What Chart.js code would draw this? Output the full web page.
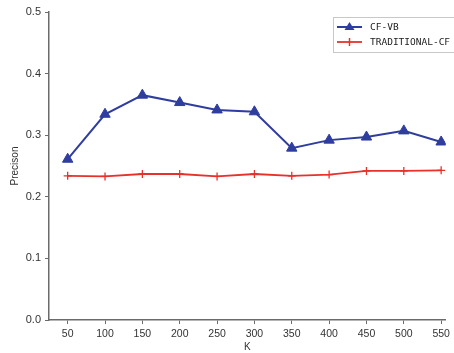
<!DOCTYPE html>
<html>
<head>
<meta charset="utf-8">
<script src="https://cdn.jsdelivr.net/npm/chart.js@4"></script>
<style>
  html, body { margin: 0; padding: 0; background: #fff; }
  #wrap { width: 454px; height: 353px; position: relative; }
</style>
</head>
<body>
<div id="wrap"><canvas id="chart"></canvas></div>
<script>
// K values (x axis)
const kValues = [50, 100, 150, 200, 250, 300, 350, 400, 450, 500, 550];
// precision per K
const cfVb = [0.261, 0.334, 0.365, 0.353, 0.341, 0.338, 0.279, 0.292, 0.297, 0.307, 0.289];
const traditionalCf = [0.234, 0.233, 0.237, 0.237, 0.233, 0.237, 0.234, 0.236, 0.242, 0.242, 0.243];
const yTicks = ['0.0', '0.1', '0.2', '0.3', '0.4', '0.5'];
const seriesNames = ['CF-VB', 'TRADITIONAL-CF'];

const BLUE = '#2e3d9e';
const RED = '#e8312b';
const AXIS = '#6b6b6b';
const TXT = '#333';
const FONT = '"Liberation Sans", Arial, sans-serif';

const toPoints = vals => vals.map((v, i) => ({ x: kValues[i], y: v }));

// legend drawn inside the plot, top right, with a thin grey frame
const boxLegend = {
    id: 'boxLegend',
    afterDraw(chart) {
        const ctx = chart.ctx;
        const x0 = 333, y0 = 17, w = 130, h = 35;
        ctx.save();
        ctx.strokeStyle = '#c8c8c8';
        ctx.lineWidth = 1;
        ctx.strokeRect(x0 + 0.5, y0 + 0.5, w, h);
        chart.data.datasets.forEach((ds, i) => {
            const cy = y0 + 10 + i * 15;
            ctx.strokeStyle = ds.borderColor;
            ctx.lineWidth = ds.borderWidth;
            ctx.beginPath();
            ctx.moveTo(x0 + 4, cy);
            ctx.lineTo(x0 + 29, cy);
            ctx.stroke();
            ctx.fillStyle = ds.borderColor;
            if (ds.pointStyle === 'triangle') {
                ctx.beginPath();
                ctx.moveTo(x0 + 16.5, cy - 5);
                ctx.lineTo(x0 + 21.5, cy + 3);
                ctx.lineTo(x0 + 11.5, cy + 3);
                ctx.closePath();
                ctx.fill();
            } else {
                ctx.lineWidth = 1.5;
                ctx.beginPath();
                ctx.moveTo(x0 + 16.5, cy - 4);
                ctx.lineTo(x0 + 16.5, cy + 4);
                ctx.stroke();
            }
            ctx.fillStyle = '#222';
            ctx.font = '9.5px "DejaVu Sans Mono", monospace';
            ctx.textBaseline = 'middle';
            ctx.textAlign = 'left';
            ctx.fillText(ds.label, x0 + 37, cy + 0.5);
        });
        ctx.restore();
    }
};

new Chart(document.getElementById('chart'), {
    type: 'line',
    data: {
        datasets: [
            {
                label: seriesNames[0],
                data: toPoints(cfVb),
                borderColor: BLUE,
                backgroundColor: BLUE,
                borderWidth: 2,
                pointStyle: 'triangle',
                pointRadius: 6,
                pointBorderWidth: 1,
                tension: 0
            },
            {
                label: seriesNames[1],
                data: toPoints(traditionalCf),
                borderColor: RED,
                backgroundColor: RED,
                borderWidth: 1.8,
                pointStyle: 'cross',
                pointRadius: 4,
                pointBorderWidth: 1.3,
                tension: 0
            }
        ]
    },
    options: {
        responsive: true,
        maintainAspectRatio: false,
        animation: false,
        layout: { padding: { top: 12, right: 0, left: 0, bottom: 0 } },
        plugins: { legend: { display: false }, tooltip: { enabled: false } },
        scales: {
            x: {
                type: 'linear',
                min: 25,
                max: 556,
                afterBuildTicks: s => { s.ticks = kValues.map(v => ({ value: v })); },
                afterFit: s => { s.height = 33; },
                grid: { drawOnChartArea: false, drawTicks: true, tickLength: 4, color: AXIS },
                border: { color: AXIS, width: 1.5 },
                ticks: { color: TXT, font: { family: FONT, size: 10.5 }, padding: 4, maxRotation: 0 },
                title: { display: true, text: 'K', color: TXT, font: { family: FONT, size: 10 }, padding: 0 }
            },
            y: {
                min: 0,
                max: 0.5,
                afterBuildTicks: s => { s.ticks = yTicks.map(t => ({ value: parseFloat(t) })); },
                afterFit: s => { s.width = 49; },
                grid: { drawOnChartArea: false, drawTicks: true, tickLength: 4, color: AXIS },
                border: { color: AXIS, width: 1.5 },
                ticks: {
                    color: TXT,
                    font: { family: FONT, size: 11 },
                    padding: 4,
                    callback: (v, i) => yTicks[i]
                },
                title: { display: true, text: 'Precison', color: TXT, font: { family: FONT, size: 10 }, padding: { top: 9, bottom: 0 } }
            }
        }
    },
    plugins: [boxLegend]
});
</script>
</body>
</html>
